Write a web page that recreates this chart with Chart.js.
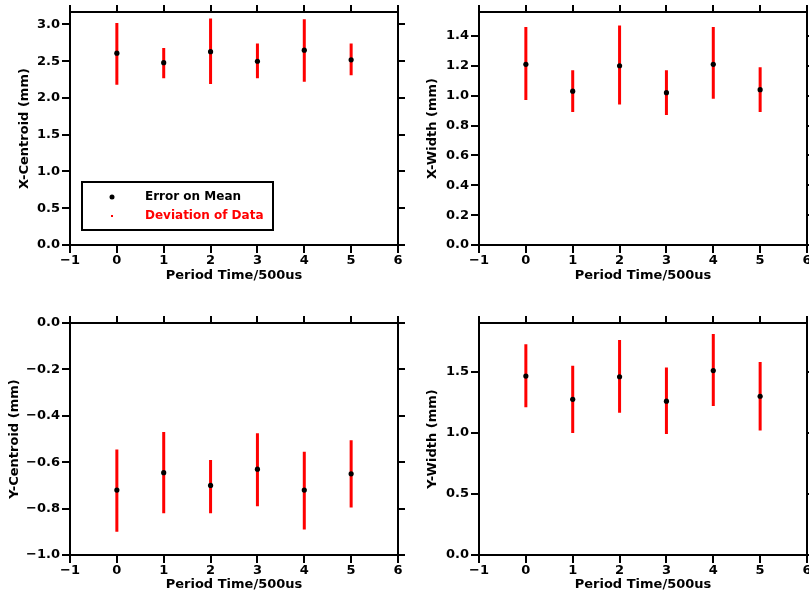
<!DOCTYPE html>
<html>
<head>
<meta charset="utf-8">
<script src="https://cdn.jsdelivr.net/npm/chart.js@4/dist/chart.umd.min.js"></script>
<style>
  html, body { margin: 0; padding: 0; background: #fff; overflow: hidden; }
  body { width: 809px; height: 592px; position: relative; }
  canvas { position: absolute; }
</style>
</head>
<body>
<canvas id="c1" width="405" height="296" style="left:0;top:0"></canvas>
<canvas id="c2" width="415" height="296" style="left:405px;top:0"></canvas>
<canvas id="c3" width="405" height="296" style="left:0;top:296px"></canvas>
<canvas id="c4" width="415" height="296" style="left:405px;top:296px"></canvas>
<script>
// ===== data =====
const periods = [0, 1, 2, 3, 4, 5];
const xTitle = 'Period Time/500us';

const xCentroidMean = [2.61, 2.48, 2.63, 2.50, 2.65, 2.52];
const xCentroidLow  = [2.18, 2.27, 2.19, 2.27, 2.22, 2.31];
const xCentroidHigh = [3.02, 2.68, 3.08, 2.74, 3.07, 2.74];

const xWidthMean = [1.21, 1.03, 1.20, 1.02, 1.21, 1.04];
const xWidthLow  = [0.97, 0.89, 0.94, 0.87, 0.98, 0.89];
const xWidthHigh = [1.46, 1.17, 1.47, 1.17, 1.46, 1.19];

const yCentroidMean = [-0.72, -0.645, -0.70, -0.63, -0.72, -0.65];
const yCentroidLow  = [-0.90, -0.82, -0.82, -0.79, -0.89, -0.795];
const yCentroidHigh = [-0.545, -0.47, -0.59, -0.475, -0.555, -0.505];

const yWidthMean = [1.465, 1.275, 1.46, 1.26, 1.51, 1.30];
const yWidthLow  = [1.21, 1.00, 1.165, 0.99, 1.22, 1.02];
const yWidthHigh = [1.725, 1.55, 1.76, 1.535, 1.81, 1.58];

const legendLabels = ['Error on Mean', 'Deviation of Data'];

const FONT = { family: 'DejaVu Sans', weight: 'bold', size: 13 };
const RED = 'rgb(255,0,0)';

const fmt = (v, d) => Number(v).toFixed(d).replace('-', '\u2212');

// 凡例（パネル1のみ）
const legendBox = {
  id: 'legendBox',
  afterDatasetsDraw(chart, args, opts) {
    if (!opts.show) return;
    const { ctx, chartArea } = chart;
    const x = chartArea.left + 12, y = chartArea.top + 170;
    ctx.save();
    ctx.lineWidth = 2;
    ctx.strokeStyle = '#000';
    ctx.strokeRect(x, y, 191, 48);
    ctx.font = 'bold 12px "DejaVu Sans"';
    ctx.textBaseline = 'middle';
    ctx.fillStyle = '#000';
    ctx.beginPath(); ctx.arc(x + 30, y + 15, 2.5, 0, Math.PI * 2); ctx.fill();
    ctx.fillText(legendLabels[0], x + 63, y + 15);
    ctx.fillStyle = RED;
    ctx.fillRect(x + 29, y + 33, 2, 2);
    ctx.fillText(legendLabels[1], x + 63, y + 34);
    ctx.restore();
  }
};

function buildPanel(id, p) {
  // エラーバーは null で区切った線分
  const bars = [];
  periods.forEach((x, i) => {
    bars.push({ x: x, y: p.low[i] }, { x: x, y: p.high[i] }, { x: x, y: null });
  });
  const means = periods.map((x, i) => ({ x: x, y: p.mean[i] }));

  const frame = { display: true, color: '#000', width: 2 };
  const gridTicks = (len) => ({ drawOnChartArea: false, drawTicks: true, tickLength: len, color: '#000', lineWidth: 2 });

  const config = {
    type: 'scatter',
    data: {
      datasets: [
        { label: legendLabels[0], data: means, pointRadius: 2.6, pointBackgroundColor: '#000', pointBorderWidth: 0, showLine: false },
        { label: legendLabels[1], data: bars, showLine: true, spanGaps: false, borderColor: RED, borderWidth: 3, pointRadius: 0 }
      ]
    },
    options: {
      responsive: false,
      animation: false,
      devicePixelRatio: 1,
      layout: { padding: 0 },
      plugins: { legend: { display: false }, tooltip: { enabled: false }, legendBox: { show: !!p.legend } },
      scales: {
        x: {
          type: 'linear', position: 'bottom', min: -1, max: 6,
          ticks: { stepSize: 1, color: '#000', font: FONT, padding: 0, maxRotation: 0, callback: v => fmt(v, 0) },
          grid: gridTicks(8), border: frame,
          title: { display: true, text: xTitle, color: '#000', font: FONT, padding: { top: 0, bottom: p.xTitlePad } },
          afterFit: s => { s.height = p.xH; }
        },
        x2: {
          type: 'linear', position: 'top', min: -1, max: 6,
          ticks: { stepSize: 1, display: false },
          grid: gridTicks(7), border: frame,
          afterFit: s => { s.height = p.topH; }
        },
        y: {
          type: 'linear', position: 'left', min: p.min, max: p.max,
          ticks: { stepSize: p.step, includeBounds: false, color: '#000', font: FONT, padding: 2, callback: v => fmt(v, 1) },
          grid: gridTicks(8), border: frame,
          title: { display: true, text: p.title, color: '#000', font: FONT, padding: { top: p.yTitlePad, bottom: 0 } },
          afterFit: s => { s.width = p.yW; }
        },
        y2: {
          type: 'linear', position: 'right', min: p.min, max: p.max,
          ticks: { stepSize: p.step, includeBounds: false, display: false },
          grid: gridTicks(7), border: frame,
          afterFit: s => { s.width = p.rightW; }
        }
      }
    },
    plugins: [legendBox]
  };
  new Chart(document.getElementById(id), config);
}

buildPanel('c1', { title: 'X-Centroid (mm)', mean: xCentroidMean, low: xCentroidLow, high: xCentroidHigh,
  min: 0, max: 3.17, step: 0.5, yW: 70, rightW: 7, topH: 12, xH: 51, xTitlePad: 13, yTitlePad: 17, legend: true });
buildPanel('c2', { title: 'X-Width (mm)', mean: xWidthMean, low: xWidthLow, high: xWidthHigh,
  min: 0, max: 1.56, step: 0.2, yW: 74, rightW: 13, topH: 12, xH: 51, xTitlePad: 13, yTitlePad: 20 });
buildPanel('c3', { title: 'Y-Centroid (mm)', mean: yCentroidMean, low: yCentroidLow, high: yCentroidHigh,
  min: -1, max: 0, step: 0.2, yW: 70, rightW: 7, topH: 27, xH: 37, xTitlePad: 0, yTitlePad: 7 });
buildPanel('c4', { title: 'Y-Width (mm)', mean: yWidthMean, low: yWidthLow, high: yWidthHigh,
  min: 0, max: 1.9, step: 0.5, yW: 74, rightW: 13, topH: 27, xH: 37, xTitlePad: 0, yTitlePad: 20 });
</script>
</body>
</html>
